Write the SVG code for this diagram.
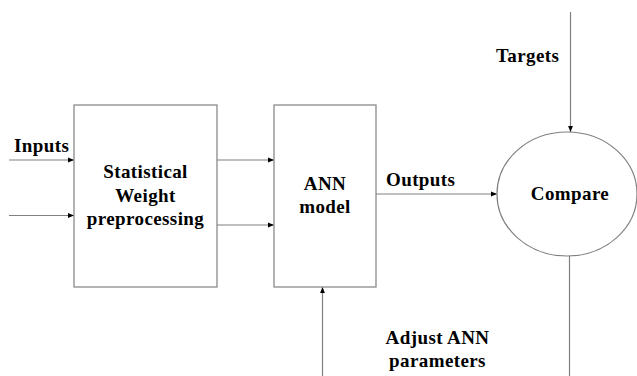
<svg xmlns="http://www.w3.org/2000/svg" width="637" height="376" viewBox="0 0 637 376">
  <style>
    .shape { fill: #ffffff; stroke: #808080; stroke-width: 1.2; }
    .wire { fill: none; stroke: #808080; stroke-width: 1.2; }
    .label { font-family: "Liberation Serif", "Times New Roman", serif; font-weight: bold; font-size: 19px; letter-spacing: 0.4px; fill: #000000; }
    .mid { text-anchor: middle; }
  </style>
  <defs>
    <marker id="arrow" viewBox="0 0 10 10" refX="10" refY="5" markerWidth="8" markerHeight="6" markerUnits="userSpaceOnUse" orient="auto">
      <path d="M0,1 L10,5 L0,9 z" fill="#000000"/>
    </marker>
  </defs>

  <rect width="637" height="376" fill="#ffffff"/>

  <g id="connectors">
    <line class="wire" x1="9" y1="160" x2="74" y2="160" marker-end="url(#arrow)"/>
    <line class="wire" x1="9" y1="215.5" x2="74" y2="215.5" marker-end="url(#arrow)"/>
    <line class="wire" x1="217" y1="160" x2="274" y2="160" marker-end="url(#arrow)"/>
    <line class="wire" x1="217" y1="225" x2="274" y2="225" marker-end="url(#arrow)"/>
    <line class="wire" x1="376" y1="194" x2="497" y2="194" marker-end="url(#arrow)"/>
    <line class="wire" x1="570.5" y1="12" x2="570.5" y2="132" marker-end="url(#arrow)"/>
    <line class="wire" x1="569.5" y1="256" x2="569.5" y2="376"/>
    <line class="wire" x1="322.5" y1="376" x2="322.5" y2="287" marker-end="url(#arrow)"/>
    <text class="label" x="14" y="152">Inputs</text>
    <text class="label" x="386" y="186">Outputs</text>
    <text class="label" x="496" y="62">Targets</text>
    <text class="label mid" x="437.5" y="344">Adjust ANN</text>
    <text class="label mid" x="437.5" y="366.5">parameters</text>
  </g>

  <g id="preprocessing">
    <rect class="shape" x="74" y="105" width="143" height="182"/>
    <text class="label mid" x="145.5" y="178">Statistical</text>
    <text class="label mid" x="145.5" y="201.5">Weight</text>
    <text class="label mid" x="145.5" y="225">preprocessing</text>
  </g>

  <g id="ann-model">
    <rect class="shape" x="274" y="105" width="102" height="182"/>
    <text class="label mid" x="325" y="190">ANN</text>
    <text class="label mid" x="325" y="213">model</text>
  </g>

  <g id="compare">
    <ellipse class="shape" cx="567" cy="194" rx="70" ry="62"/>
    <text class="label mid" x="570" y="200">Compare</text>
  </g>
</svg>
